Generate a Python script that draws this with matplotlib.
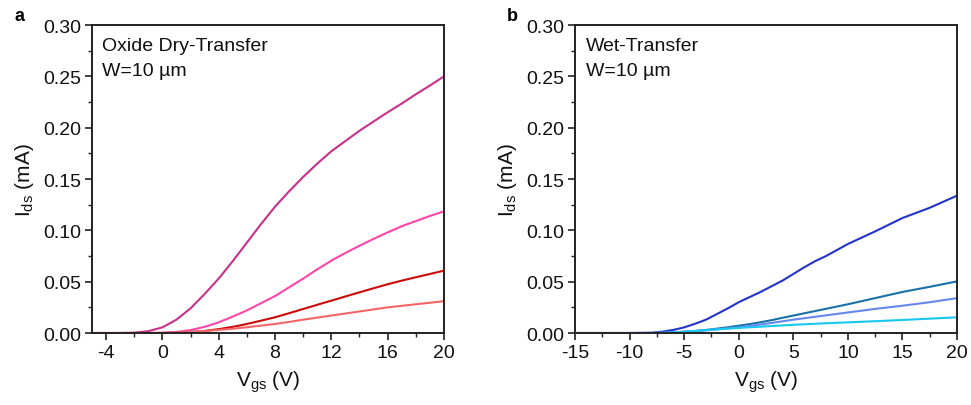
import matplotlib
matplotlib.use("Agg")
import matplotlib.pyplot as plt
from matplotlib.ticker import MultipleLocator, FormatStrFormatter

plt.rcParams['font.family'] = ['Liberation Sans', 'DejaVu Sans']
plt.rcParams['mathtext.default'] = 'regular'
plt.rcParams['axes.unicode_minus'] = False

# Oxide dry-transfer transfer curves (Vgs in V, Ids in mA)
vgs_dry = [-5, -4, -3, -2, -1, 0, 1, 2, 3, 4, 5, 6, 7, 8, 9, 10, 11, 12, 13, 14,
           15, 16, 17, 18, 19, 20]
ids_dry_1 = [0, 0, 0, 0.0003, 0.0018, 0.0055, 0.013, 0.024, 0.038, 0.053, 0.070, 0.088,
             0.106, 0.123, 0.138, 0.152, 0.165, 0.177, 0.187, 0.197,
             0.206, 0.215, 0.2235, 0.2325, 0.241, 0.250]
ids_dry_2 = [0, 0, 0, 0, 0, 0.0003, 0.001, 0.0028, 0.006, 0.0104, 0.016, 0.022,
             0.029, 0.036, 0.0445, 0.053, 0.062, 0.0705, 0.078, 0.085,
             0.0917, 0.098, 0.104, 0.109, 0.114, 0.1185]
ids_dry_3 = [0, 0, 0, 0, 0, 0, 0.0002, 0.0008, 0.002, 0.0038, 0.006, 0.0088,
             0.012, 0.0153, 0.0193, 0.0234, 0.0275, 0.0315, 0.0356, 0.0396,
             0.0436, 0.0475, 0.051, 0.0543, 0.0575, 0.0607]
ids_dry_4 = [0, 0, 0, 0, 0, 0.0001, 0.0004, 0.001, 0.002, 0.003, 0.0042, 0.0056,
             0.0072, 0.0088, 0.0108, 0.013, 0.015, 0.017, 0.019, 0.021,
             0.023, 0.025, 0.0265, 0.028, 0.0295, 0.031]

# Wet-transfer transfer curves
vgs_wet = [-15, -10, -8, -7, -6, -5, -4, -3, -2, -1, 0, 1, 2, 3, 4, 5, 6, 7, 8,
           10, 12.5, 15, 17.5, 20]
ids_wet_1 = [0, 0, 0.0003, 0.0013, 0.003, 0.0055, 0.009, 0.013, 0.0185, 0.024, 0.030,
             0.035, 0.040, 0.0455, 0.051, 0.0575, 0.064, 0.070, 0.075,
             0.0867, 0.099, 0.112, 0.122, 0.1338]
ids_wet_2 = [0, 0, 0, 0.0002, 0.0006, 0.0013, 0.002, 0.003, 0.0042, 0.0056, 0.0071,
             0.0087, 0.0105, 0.0125, 0.0148, 0.017, 0.0192, 0.0214, 0.0236,
             0.028, 0.034, 0.040, 0.045, 0.0503]
ids_wet_3 = [0, 0, 0, 0.0002, 0.0005, 0.0011, 0.0018, 0.0026, 0.0035, 0.0045, 0.0055,
             0.0069, 0.0083, 0.0098, 0.0114, 0.013, 0.0144, 0.0158, 0.0172,
             0.020, 0.0235, 0.0266, 0.030, 0.034]
ids_wet_4 = [0, 0, 0, 0.0002, 0.0005, 0.0012, 0.002, 0.0028, 0.0036, 0.0043, 0.005,
             0.0056, 0.0062, 0.0068, 0.0074, 0.008, 0.0085, 0.009, 0.0095,
             0.0104, 0.0115, 0.0127, 0.014, 0.0153]

dry_colors = ['#c8308a', '#ff45a8', '#cc0a0a', '#f26666']
wet_colors = ['#2233c8', '#1a70a8', '#6688ee', '#18c8f0']

fig = plt.figure(figsize=(9.71, 4.06), dpi=100)
ax1 = fig.add_axes([0.0947, 0.1773, 0.3625, 0.7586])
ax2 = fig.add_axes([0.5922, 0.1773, 0.3934, 0.7586])

for c, y in zip(dry_colors, [ids_dry_1, ids_dry_2, ids_dry_3, ids_dry_4]):
    ax1.plot(vgs_dry, y, color=c, lw=1.5)
for c, y in zip(wet_colors, [ids_wet_1, ids_wet_2, ids_wet_3, ids_wet_4]):
    ax2.plot(vgs_wet, y, color=c, lw=1.5)

ax1.set_xlim(-5, 20)
ax1.xaxis.set_major_locator(MultipleLocator(4))
ax1.xaxis.set_minor_locator(MultipleLocator(2))
ax2.set_xlim(-15, 20)
ax2.xaxis.set_major_locator(MultipleLocator(5))
ax2.xaxis.set_minor_locator(MultipleLocator(2.5))

for ax, title in [(ax1, 'Oxide Dry-Transfer'), (ax2, 'Wet-Transfer')]:
    ax.set_ylim(0, 0.30)
    ax.yaxis.set_major_locator(MultipleLocator(0.05))
    ax.yaxis.set_minor_locator(MultipleLocator(0.025))
    ax.yaxis.set_major_formatter(FormatStrFormatter('%.2f'))
    for s in ax.spines.values():
        s.set_linewidth(1.4)
        s.set_color('#222222')
    ax.tick_params(which='major', direction='out', length=5, width=1.2,
                   labelsize=14, colors='#222222', pad=3)
    ax.tick_params(which='minor', direction='out', length=3, width=1.0, colors='#222222')
    ax.tick_params(labelcolor='#111111')
    ax.set_xlabel(r'V$_{gs}$ (V)', fontsize=15, color='#111111', labelpad=5)
    ax.set_ylabel(r'I$_{ds}$ (mA)', fontsize=15, color='#111111', labelpad=5)
    ax.text(0.028, 0.935, title, transform=ax.transAxes, fontsize=14,
            va='center', ha='left', color='#111111')
    ax.text(0.028, 0.853, 'W=10 µm', transform=ax.transAxes, fontsize=14,
            va='center', ha='left', color='#111111')

fig.text(0.0145, 0.96, 'a', fontsize=13, fontweight='bold', va='center')
fig.text(0.522, 0.96, 'b', fontsize=13, fontweight='bold', va='center')

fig.savefig('out.png', dpi=100)
